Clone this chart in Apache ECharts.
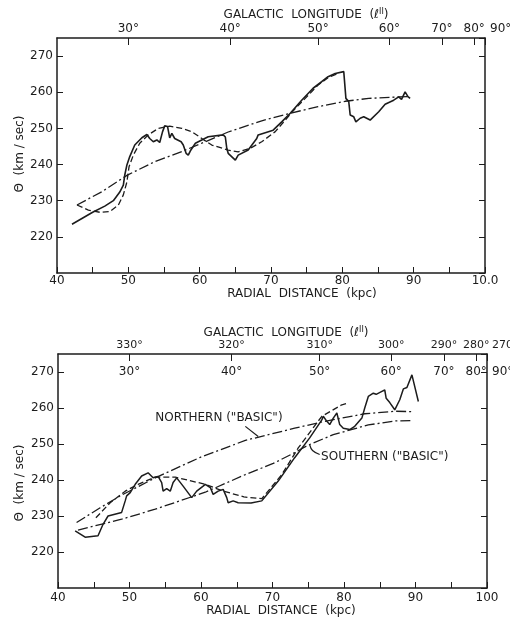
<!DOCTYPE html>
<html>
<head>
<meta charset="utf-8">
<script src="https://cdn.jsdelivr.net/npm/echarts@6/dist/echarts.min.js"></script>
<style>
	html, body { margin: 0; padding: 0; background: #fff; }
	#main { width: 510px; height: 621px; }
</style>
</head>
<body>
<div id="main"></div>
<script>
	// radial distance R (kpc) against rotation velocity (km/sec)
	var xTicks = [4, 5, 6, 7, 8, 9, 10];
	var xLabelsTop = ['40', '50', '60', '70', '80', '90', '10.0'];
	var xLabelsBottom = ['40', '50', '60', '70', '80', '90', '100'];
	var lonTicks = [30, 40, 50, 60, 70, 80, 90];
	var lonSouthLabels = ['330°', '320°', '310°', '300°', '290°', '280°', '270°'];
	var sunDistance = 10; // R = R0 sin(l)

	// upper panel
	var observedTop = [[4.21, 223.5], [4.50, 226.8], [4.67, 228.5], [4.79, 230.0], [4.88, 232.4], [4.93, 234.3],
		[4.95, 237.1], [4.98, 239.9], [5.02, 242.2], [5.09, 245.4], [5.19, 247.4], [5.26, 248.3], [5.30, 247.2],
		[5.35, 246.3], [5.40, 246.8], [5.44, 246.1], [5.48, 249.1], [5.51, 250.7], [5.55, 250.5], [5.58, 247.4],
		[5.61, 248.6], [5.65, 247.2], [5.74, 246.3], [5.77, 245.4], [5.81, 243.1], [5.84, 242.6], [5.87, 243.8],
		[5.94, 245.9], [6.05, 247.0], [6.12, 247.7], [6.33, 248.2], [6.36, 247.6], [6.38, 244.5], [6.40, 243.1],
		[6.50, 241.2], [6.54, 242.6], [6.68, 244.0], [6.80, 247.2], [6.82, 248.2], [7.03, 249.5], [7.15, 251.8],
		[7.27, 254.2], [7.43, 257.8], [7.59, 261.1], [7.71, 262.9], [7.80, 264.3], [7.90, 265.2], [8.02, 265.7],
		[8.03, 265.2], [8.05, 258.3], [8.09, 257.4], [8.11, 253.7], [8.16, 253.2], [8.19, 251.8], [8.25, 252.8],
		[8.30, 253.2], [8.39, 252.3], [8.51, 254.6], [8.60, 256.7], [8.72, 257.8], [8.79, 258.7], [8.83, 258.0],
		[8.88, 260.1], [8.92, 258.8], [8.95, 258.3]];
	var modelTop = [[4.28, 228.8], [4.44, 227.4], [4.60, 226.8], [4.74, 227.0], [4.86, 228.8], [4.93, 231.6],
		[4.98, 235.2], [5.01, 239.4], [5.07, 242.6], [5.16, 245.9], [5.28, 248.2], [5.42, 250.0], [5.58, 250.6],
		[5.75, 250.0], [5.89, 249.1], [6.03, 247.2], [6.17, 245.4], [6.40, 244.0], [6.54, 243.5], [6.71, 244.5],
		[6.87, 246.3], [7.06, 249.1], [7.20, 252.3], [7.34, 255.5], [7.48, 258.3], [7.66, 262.0], [7.80, 264.0],
		[7.95, 265.3]];
	var fitTop = [[4.28, 228.8], [4.63, 232.5], [4.98, 237.0], [5.37, 240.8], [5.75, 243.6], [6.03, 245.9],
		[6.40, 249.0], [6.87, 252.1], [7.27, 254.2], [7.66, 256.0], [8.04, 257.5], [8.37, 258.3], [8.79, 258.7],
		[8.93, 258.8]];

	// lower panel
	var observedBottom = [[4.24, 225.9], [4.38, 224.1], [4.56, 224.5], [4.63, 227.7], [4.70, 230.0], [4.89, 231.0],
		[4.94, 234.2], [4.96, 235.6], [5.01, 236.5], [5.08, 238.8], [5.17, 241.1], [5.26, 242.0], [5.33, 240.6],
		[5.40, 241.0], [5.45, 239.3], [5.47, 236.9], [5.52, 237.6], [5.57, 236.9], [5.61, 239.3], [5.66, 240.6],
		[5.75, 238.3], [5.87, 235.1], [5.94, 236.9], [6.03, 238.3], [6.06, 238.8], [6.13, 237.9], [6.17, 236.0],
		[6.24, 236.9], [6.31, 237.4], [6.36, 235.1], [6.38, 233.7], [6.45, 234.2], [6.52, 233.7], [6.70, 233.6],
		[6.85, 234.2], [7.08, 239.7], [7.31, 246.2], [7.52, 251.7], [7.69, 256.7], [7.71, 257.7], [7.76, 256.3],
		[7.80, 255.4], [7.85, 257.2], [7.90, 258.6], [7.94, 255.4], [7.99, 254.4], [8.08, 254.0], [8.15, 254.9],
		[8.25, 257.2], [8.29, 260.0], [8.34, 263.2], [8.41, 264.1], [8.45, 263.8], [8.53, 264.6], [8.57, 265.0],
		[8.59, 262.7], [8.64, 261.5], [8.71, 259.5], [8.78, 262.3], [8.83, 265.3], [8.88, 265.7], [8.95, 269.2],
		[9.04, 261.8]];
	var modelBottom = [[4.53, 229.5], [4.73, 233.7], [4.94, 236.9], [5.12, 238.8], [5.36, 240.8], [5.64, 240.8],
		[6.06, 238.8], [6.30, 237.0], [6.60, 235.3], [6.85, 234.8], [7.13, 241.5], [7.36, 248.9], [7.69, 257.7],
		[7.97, 260.9], [8.06, 261.4]];
	var northern = [[4.26, 228.2], [4.59, 232.3], [4.89, 235.8], [5.36, 240.6], [5.99, 246.3], [6.62, 251.0],
		[7.31, 254.4], [7.73, 256.3], [8.29, 258.4], [8.71, 259.1], [8.95, 259.0]];
	var southern = [[4.28, 226.1], [4.89, 229.1], [5.36, 231.9], [6.06, 236.6], [6.62, 241.5], [7.01, 244.6],
		[7.31, 247.6], [7.50, 249.7], [7.85, 252.6], [8.34, 255.3], [8.71, 256.4], [8.95, 256.5]];

	var northLabel = 'NORTHERN ("BASIC")';
	var southLabel = 'SOUTHERN ("BASIC")';

	var ink = '#1c1c1c';
	var font = 'DejaVu Sans';
	var lonR = lonTicks.map(function (l) { return sunDistance * Math.sin(l * Math.PI / 180); });

	function lonOf(r) {
		return Math.round(Math.asin(Math.min(1, r / sunDistance)) * 180 / Math.PI);
	}

	function bottomAxis(grid, labels) {
		return {
			type: 'value', gridIndex: grid, position: 'bottom', min: 4, max: 10, interval: 1,
			axisLine: { lineStyle: { color: ink, width: 1.5 } },
			axisTick: { inside: true, length: 6, lineStyle: { color: ink } },
			minorTick: { show: true, splitNumber: 2, length: 6, lineStyle: { color: ink } },
			splitLine: { show: false },
			axisLabel: {
				color: ink, fontSize: 12, fontFamily: font, margin: grid === 0 ? 2 : 4,
				formatter: function (v) { return labels[xTicks.indexOf(v)] || ''; }
			}
		};
	}

	function lonAxis(grid, names, inside, size) {
		return {
			type: 'value', gridIndex: grid, position: 'top', min: 4, max: 10,
			axisLine: { show: !inside, lineStyle: { color: ink, width: 1.5 } },
			axisTick: { show: !inside, inside: true, length: 7, customValues: lonR, lineStyle: { color: ink } },
			splitLine: { show: false },
			axisLabel: {
				inside: inside, margin: inside ? 12 : 3, customValues: lonR,
				color: ink, fontSize: size, fontFamily: font,
				alignMaxLabel: 'left', hideOverlap: false, showMaxLabel: true, showMinLabel: true,
				formatter: function (v) {
					var i = lonTicks.indexOf(lonOf(v));
					return i === lonTicks.length - 1 ? '{e|' + names[i] + '}' : names[i];
				},
				rich: { e: { color: ink, fontSize: size, fontFamily: font, padding: [0, 0, 0, 5] } }
			}
		};
	}

	function valueAxis(grid, side) {
		return {
			type: 'value', gridIndex: grid, position: side, min: 210, max: 275, interval: 10,
			axisLine: { show: true, lineStyle: { color: ink, width: 1.5 } },
			axisTick: { show: true, inside: true, length: 6, lineStyle: { color: ink } },
			splitLine: { show: false },
			axisLabel: {
				show: side === 'left', color: ink, fontSize: 12, fontFamily: font, margin: 4,
				showMinLabel: false, showMaxLabel: false
			}
		};
	}

	function line(name, data, axis, type, width) {
		return {
			name: name, type: 'line', data: data, xAxisIndex: axis[0], yAxisIndex: axis[1],
			showSymbol: false, silent: true, z: type === 'solid' ? 3 : 2,
			lineStyle: { color: ink, width: width, type: type }
		};
	}

	var northNames = lonTicks.map(function (l) { return l + '°'; });
	var dashed = [6, 3];
	var dashDot = [10, 3, 2, 3];

	var myChart = echarts.init(document.getElementById('main'), null, { renderer: 'canvas' });
	var option = {
		animation: false,
		backgroundColor: '#fff',
		grid: [
			{ left: 57, top: 38, width: 428, height: 235, containLabel: false, outerBoundsMode: 'none' },
			{ left: 58, top: 354, width: 429, height: 234, containLabel: false, outerBoundsMode: 'none' }
		],
		xAxis: [
			bottomAxis(0, xLabelsTop),
			lonAxis(0, northNames, false, 12),
			bottomAxis(1, xLabelsBottom),
			lonAxis(1, lonSouthLabels, false, 11),
			lonAxis(1, northNames, true, 12)
		],
		yAxis: [
			valueAxis(0, 'left'),
			valueAxis(0, 'right'),
			valueAxis(1, 'left'),
			valueAxis(1, 'right')
		],
		series: [
			line('observed', observedTop, [0, 0], 'solid', 1.6),
			line('model', modelTop, [0, 0], dashed, 1.3),
			line('fit', fitTop, [0, 0], dashDot, 1.3),
			line('observed south', observedBottom, [2, 2], 'solid', 1.5),
			line('model south', modelBottom, [2, 2], dashed, 1.3),
			line('northern', northern, [2, 2], dashDot, 1.3),
			line('southern', southern, [2, 2], dashDot, 1.3)
		]
	};
	myChart.setOption(option);

	function titleText(x, y, rich, rotate) {
		return {
			type: 'text', x: x, y: y, rotation: rotate ? Math.PI / 2 : 0,
			style: {
				text: rich, align: 'center', verticalAlign: 'middle', fill: ink,
				font: '12px "' + font + '"',
				rich: {
					a: { fontSize: 12, fontFamily: font, fill: ink },
					s: { fontSize: 8, fontFamily: font, fill: ink, verticalAlign: 'top', padding: [0, 0, 6, 0] }
				}
			}
		};
	}

	var lonTitle = '{a|GALACTIC  LONGITUDE  (ℓ}{s|II}{a|)}';
	var distTitle = '{a|RADIAL  DISTANCE  (kpc)}';
	var velTitle = '{a|Θ  (km / sec)}';

	var p = function (pt) { return myChart.convertToPixel({ xAxisIndex: 2, yAxisIndex: 2 }, pt); };
	var nA = p([6.62, 254.9]), nB = p([6.80, 252.1]);
	var sA = p([7.52, 249.8]), sM = p([7.56, 248.2]), sB = p([7.66, 247.1]);
	var nT = p([5.36, 257.3]), sT = p([7.68, 246.5]);

	myChart.setOption({
		graphic: [
			titleText(306, 15, lonTitle),
			titleText(302, 294, distTitle),
			titleText(20, 154, velTitle, true),
			titleText(286, 333, lonTitle),
			titleText(281, 611, distTitle),
			titleText(20, 483, velTitle, true),
			{ type: 'text', x: nT[0], y: nT[1], style: { text: northLabel, fill: ink, font: '12px "' + font + '"', verticalAlign: 'middle' } },
			{ type: 'text', x: sT[0], y: sT[1], style: { text: southLabel, fill: ink, font: '12px "' + font + '"', verticalAlign: 'middle' } },
			{ type: 'polyline', shape: { points: [nA, nB] }, style: { stroke: ink, lineWidth: 1.2, fill: null } },
			{ type: 'polyline', shape: { points: [sA, sM, sB], smooth: 0.4 }, style: { stroke: ink, lineWidth: 1.2, fill: null } }
		]
	});

	window.addEventListener('resize', function () {
		myChart.resize();
	});
</script>
</body>
</html>
